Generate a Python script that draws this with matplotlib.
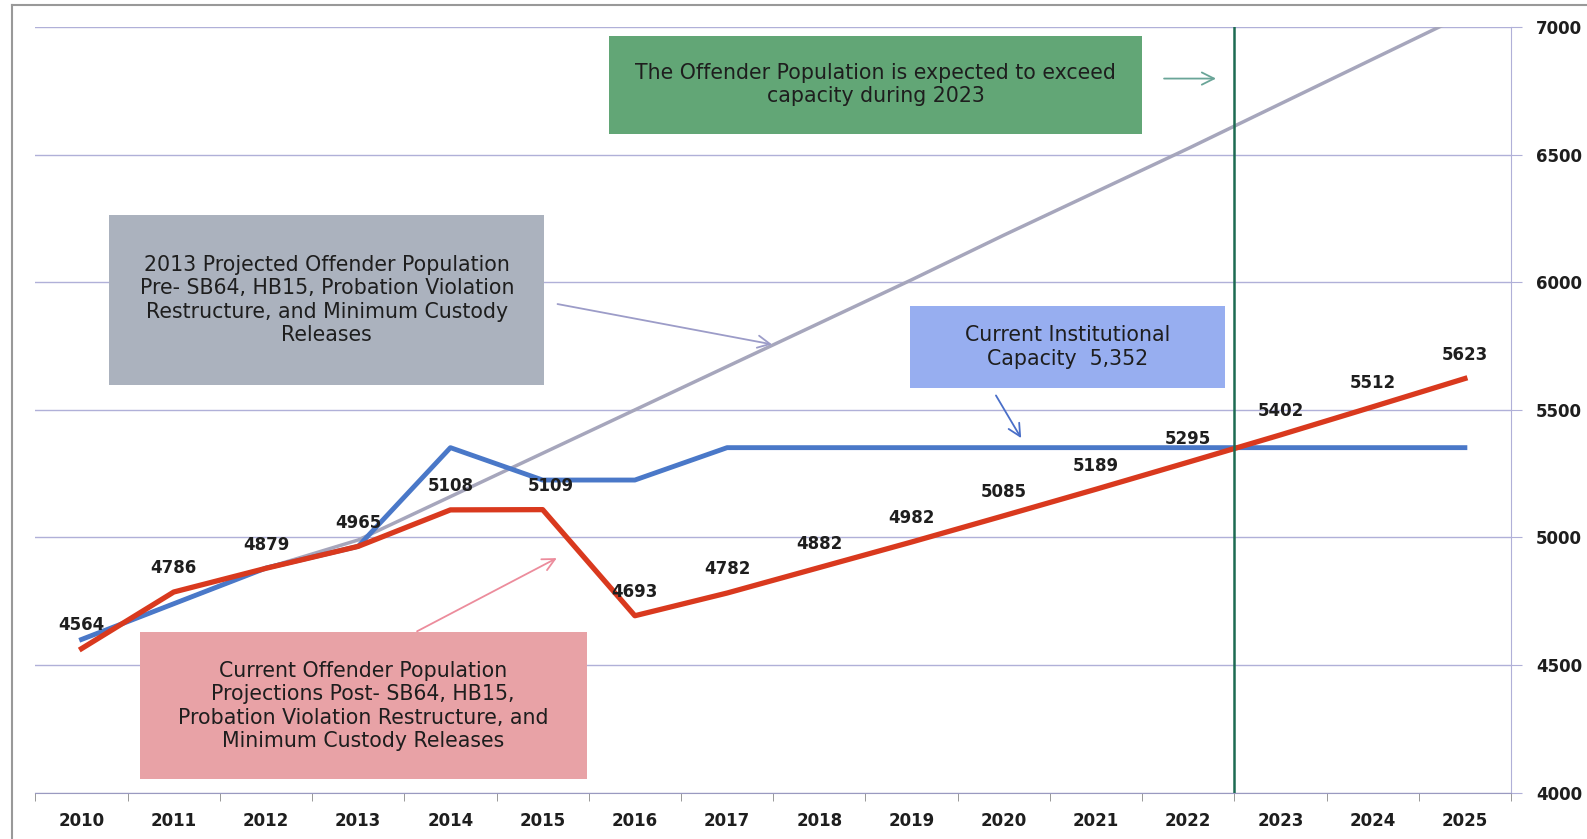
import matplotlib.pyplot as plt
from matplotlib.lines import Line2D
from matplotlib.patches import Rectangle

years = [str(y) for y in range(2010, 2026)]
# current projection (post SB64, HB15 ...)
current_pop = [4564, 4786, 4879, 4965, 5108, 5109, 4693, 4782, 4882, 4982,
               5085, 5189, 5295, 5402, 5512, 5623]
# institutional capacity
capacity = [4600, 4740, 4880, 4965, 5352, 5225, 5225, 5352, 5352, 5352,
            5352, 5352, 5352, 5352, 5352, 5352]
# 2013 projection (pre SB64, HB15 ...)
projected_2013 = [4600, 4740, 4880, 4990, 5160, 5330, 5500, 5670, 5840, 6010,
                  6185, 6355, 6525, 6700, 6875, 7050]
y_ticks = [4000, 4500, 5000, 5500, 6000, 6500, 7000]
exceed_year_pos = 12.5  # between 2022 and 2023

RED = '#d9391e'
BLUE = '#4a78c8'
GRAY = '#a6a6bc'
GRID = '#b0b0d8'
TXT = '#1e1e1e'

fig = plt.figure(figsize=(15.87, 8.39), dpi=100)
ax = fig.add_axes([35.4 / 1587, 1 - 792.5 / 839, (1511 - 35.4) / 1587, (792.5 - 27.3) / 839])

x = list(range(len(years)))
ax.plot(x, projected_2013, color=GRAY, lw=2.5, zorder=2)
ax.plot(x, capacity, color=BLUE, lw=3.5, zorder=3)
ax.plot(x, current_pop, color=RED, lw=3.8, zorder=4)
ax.axvline(exceed_year_pos, color='#1d6b52', lw=1.8, zorder=5)

for xi, v in zip(x, current_pop):
    dx = 6 if years[xi] == '2015' else 0
    ax.annotate(str(v), (xi, v), xytext=(dx, 17), textcoords='offset points',
                ha='center', va='center', fontsize=12, fontweight='bold', color=TXT, zorder=6)

ax.set_xlim(-0.5, 15.5)
ax.set_ylim(4000, 7000)
ax.set_yticks(y_ticks)
ax.yaxis.tick_right()
ax.set_yticklabels([str(t) for t in y_ticks], fontsize=12, fontweight='bold', color=TXT)
ax.set_xticks(x)
ax.set_xticklabels(years, fontsize=12, fontweight='bold', color=TXT)
ax.set_xticks([i - 0.5 for i in range(len(years) + 1)], minor=True)
ax.tick_params(axis='x', which='major', length=0, pad=14)
ax.tick_params(axis='x', which='minor', length=6, color='#888888', direction='out')
ax.tick_params(axis='y', length=8, color=GRID, pad=10)
ax.grid(axis='y', color=GRID, lw=1)
ax.set_axisbelow(True)
for s in ['top', 'left']:
    ax.spines[s].set_visible(False)
ax.spines['right'].set_color(GRID)
ax.spines['bottom'].set_color('#9a9ac0')

# boxes in axes fraction
boxes = [
    ((0.389, 0.861), 0.361, 0.128, '#62a676',
     'The Offender Population is expected to exceed\ncapacity during 2023'),
    ((0.050, 0.532), 0.295, 0.223, '#abb2be',
     '2013 Projected Offender Population\nPre- SB64, HB15, Probation Violation\nRestructure, and Minimum Custody\nReleases'),
    ((0.593, 0.529), 0.213, 0.107, '#97aef0',
     'Current Institutional\nCapacity  5,352'),
    ((0.0706, 0.0172), 0.303, 0.192, '#e8a2a6',
     'Current Offender Population\nProjections Post- SB64, HB15,\nProbation Violation Restructure, and\nMinimum Custody Releases'),
]
for (bx, by), w, h, c, txt in boxes:
    ax.add_patch(Rectangle((bx, by), w, h, transform=ax.transAxes, facecolor=c,
                           edgecolor='none', zorder=7))
    ax.text(bx + w / 2, by + h / 2, txt, transform=ax.transAxes, ha='center', va='center',
            fontsize=14.8, family='DejaVu Sans', color=TXT, linespacing=1.22, zorder=8)

arrows = [
    ((0.763, 0.933), (0.802, 0.933), '#6aa598'),
    ((0.352, 0.639), (0.501, 0.585), '#9c9cc8'),
    ((0.650, 0.522), (0.669, 0.460), '#4a6fc8'),
    ((0.257, 0.209), (0.355, 0.308), '#ec8c9c'),
]
for start, end, c in arrows:
    ax.annotate('', xy=end, xytext=start, xycoords='axes fraction',
                arrowprops=dict(arrowstyle='->', color=c, lw=1.3, mutation_scale=22), zorder=8)

# outer frame
fig.add_artist(Line2D([12 / 1587, 12 / 1587], [0, 1 - 5 / 839], color='#999999', lw=1.5))
fig.add_artist(Line2D([12 / 1587, 1], [1 - 5 / 839, 1 - 5 / 839], color='#999999', lw=1.5))

fig.savefig('out.png', dpi=100)
